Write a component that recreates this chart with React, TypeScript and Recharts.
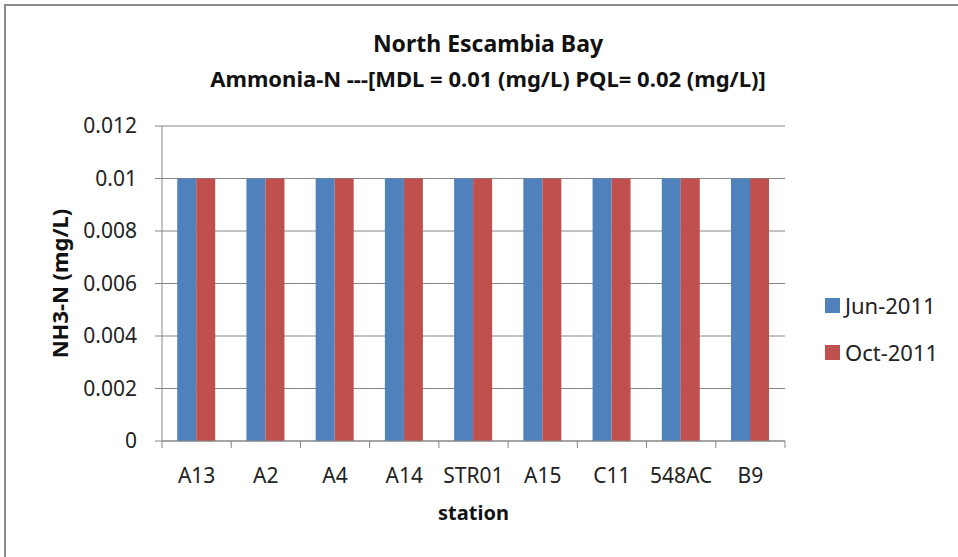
import React from "react";
import { BarChart, Bar, XAxis, YAxis, CartesianGrid } from "recharts";

const stations = ["A13", "A2", "A4", "A14", "STR01", "A15", "C11", "548AC", "B9"];
const jun2011 = [0.01, 0.01, 0.01, 0.01, 0.01, 0.01, 0.01, 0.01, 0.01];
const oct2011 = [0.01, 0.01, 0.01, 0.01, 0.01, 0.01, 0.01, 0.01, 0.01];
const seriesNames = ["Jun-2011", "Oct-2011"];
const seriesColors = ["#4F81BD", "#C0504D"];
const yTicks = [0, 0.002, 0.004, 0.006, 0.008, 0.01, 0.012];
const titleText = "North Escambia Bay";
const subtitleText = "Ammonia-N ---[MDL = 0.01 (mg/L) PQL= 0.02 (mg/L)]";
const yLabel = "NH3-N (mg/L)";
const xLabel = "station";

const data = stations.map((s, i) => ({ station: s, jun: jun2011[i], oct: oct2011[i] }));

const FONT = "'Noto Sans', 'Open Sans', sans-serif";
const W = 958;
const H = 557;
const PLOT_LEFT = 162;
const PLOT_RIGHT = 785;
const PLOT_TOP = 126;
const PLOT_BOTTOM = 441;
const AXIS_COLOR = "#868686";

const XTick = (props: any) => {
  const { x, y, payload, index } = props;
  const half =
    payload && typeof payload.offset === "number" && payload.offset > 0
      ? payload.offset
      : (PLOT_RIGHT - PLOT_LEFT) / stations.length / 2;
  const isLast = index === stations.length - 1;
  return (
    <g>
      <line x1={x - half} x2={x - half} y1={y - 7} y2={y} stroke={AXIS_COLOR} strokeWidth={1} />
      {isLast && (
        <line x1={x + half} x2={x + half} y1={y - 7} y2={y} stroke={AXIS_COLOR} strokeWidth={1} />
      )}
      <text x={x} y={y + 35} textAnchor="middle" fontFamily={FONT} fontSize={21} fill="#222">
        {payload.value}
      </text>
    </g>
  );
};

export default function App() {
  return (
    <div
      style={{
        position: "absolute",
        left: 0,
        top: 0,
        width: W,
        height: H,
        overflow: "hidden",
        background: "#fff",
      }}
    >
      <div style={{ position: "absolute", left: 4, top: 4, width: W - 4, height: 2, background: "#8c8c8c" }} />
      <div style={{ position: "absolute", left: 4, top: 4, width: 2, height: H - 4, background: "#8c8c8c" }} />
      <BarChart
        width={W}
        height={H}
        data={data}
        margin={{ top: PLOT_TOP, right: W - PLOT_RIGHT, bottom: 0, left: 0 }}
        barCategoryGap="22%"
        barGap={0}
        style={{ position: "absolute", left: 0, top: 0 }}
      >
        <text x={488} y={52} textAnchor="middle" fontFamily={FONT} fontWeight="bold" fontSize={23} fill="#111">
          {titleText}
        </text>
        <text x={488} y={87} textAnchor="middle" fontFamily={FONT} fontWeight="bold" fontSize={22} fill="#111">
          {subtitleText}
        </text>
        <CartesianGrid vertical={false} stroke={AXIS_COLOR} strokeWidth={1} />
        <XAxis
          dataKey="station"
          height={H - PLOT_BOTTOM}
          tickSize={7}
          tickMargin={0}
          tickLine={false}
          axisLine={{ stroke: AXIS_COLOR }}
          tick={<XTick />}
          interval={0}
          label={{
            value: xLabel,
            position: "insideTop",
            offset: 65,
            style: { fontFamily: FONT, fontWeight: "bold", fontSize: 20, fill: "#111" },
          }}
        />
        <YAxis
          width={PLOT_LEFT}
          domain={[0, 0.012]}
          ticks={yTicks}
          interval={0}
          tickSize={7}
          tickMargin={18}
          tickFormatter={(v: number) => String(v)}
          tick={{ fontFamily: FONT, fontSize: 21, fill: "#222" }}
          tickLine={{ stroke: AXIS_COLOR }}
          axisLine={{ stroke: AXIS_COLOR }}
          label={{
            value: yLabel,
            angle: -90,
            position: "insideLeft",
            offset: 60,
            style: { fontFamily: FONT, fontWeight: "bold", fontSize: 22, fill: "#111", textAnchor: "middle" },
          }}
        />
        <Bar dataKey="jun" name={seriesNames[0]} fill={seriesColors[0]} isAnimationActive={false} />
        <Bar dataKey="oct" name={seriesNames[1]} fill={seriesColors[1]} isAnimationActive={false} />
      </BarChart>
      <div style={{ position: "absolute", left: 825, top: 289, fontFamily: FONT, fontSize: 22, color: "#222" }}>
        {seriesNames.map((n, i) => (
          <div key={n} style={{ display: "flex", alignItems: "center", height: 32, marginBottom: 15 }}>
            <span
              style={{ display: "inline-block", width: 15, height: 15, background: seriesColors[i], marginRight: 5 }}
            />
            <span>{n}</span>
          </div>
        ))}
      </div>
    </div>
  );
}
